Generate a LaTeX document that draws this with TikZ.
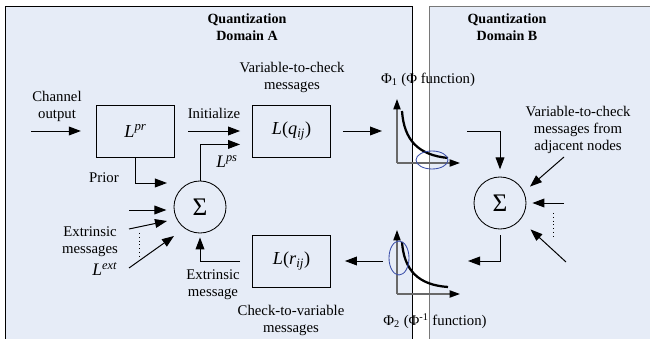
\documentclass[tikz,border=0pt]{standalone}
\usepackage{fontspec}
\setmainfont{Liberation Serif}
\usetikzlibrary{arrows.meta,calc,positioning}
\definecolor{PanelFill}{RGB}{230,236,247}
\definecolor{PanelEdge}{RGB}{120,120,120}
\definecolor{AxisGray}{RGB}{105,105,105}
\definecolor{RingBlue}{RGB}{60,80,170}
\tikzset{
  blk/.style={draw,minimum width=1.95cm,minimum height=1.3cm,
              font=\fontsize{13}{15}\selectfont,line width=0.6pt},
  sumnode/.style={draw,circle,minimum size=1.3cm,inner sep=0pt,
                  font=\fontsize{18}{20}\selectfont,line width=0.6pt},
  lbl/.style={align=center,font=\fontsize{10.5}{12.1}\selectfont},
  mlbl/.style={font=\fontsize{12.5}{14}\selectfont},
  ttl/.style={align=center,font=\fontsize{10}{12.1}\selectfont\bfseries},
  arr/.style={-{Triangle[length=0.3cm,width=0.22cm]},line width=0.7pt},
  axis/.style={-{Triangle[length=0.26cm,width=0.18cm,black]},AxisGray,line width=1pt},
  curve/.style={line width=1.6pt},
  ring/.style={draw=RingBlue,line width=0.6pt},
}
\begin{document}
\begin{tikzpicture}[x=0.025cm,y=-0.025cm]
    \useasboundingbox (0,0) rectangle (650,339);
    \clip (0,0) rectangle (650,339);
    % Panels
    \draw[fill=PanelFill,line width=0.6pt] (5,6) rectangle (412,350);
    \draw[fill=PanelFill,draw=PanelEdge,line width=0.6pt] (429,6) rectangle (660,350);
    \node[ttl] (ttlA) at (247,27) {Quantization\\Domain A};
    \node[ttl] (ttlB) at (507,27) {Quantization\\Domain B};

    % Node definitions
    \node[blk] (Lpr) at (135.5,131) {\textit{L}\textsuperscript{\textit{pr}}};
    \node[blk] (Lq) at (291.5,131) {\textit{L}(\textit{q}\textsubscript{\textit{ij}})};
    \node[blk] (Lr) at (291.5,261) {\textit{L}(\textit{r}\textsubscript{\textit{ij}})};
    \node[sumnode] (sumA) at (200,207) {Σ};
    \node[sumnode] (sumB) at (500,203) {Σ};

    % Free ends
    \coordinate (chanIn) at (31,131);
    \coordinate (priorEnd) at (167,183);
    \coordinate (extA) at (129,210);
    \coordinate (extB) at (129,229);
    \coordinate (extBend) at (167,221);
    \coordinate (extC) at (129,268);
    \coordinate (extCend) at (174,236);
    \coordinate (phiAin) at (382,131);
    \coordinate (phiAout) at (467,131);
    \coordinate (phiBin) at (468,261);
    \coordinate (phiBout) at (383,261);
    \coordinate (adjA) at (564,157);
    \coordinate (adjB) at (564,203);
    \coordinate (adjC) at (566,262);
    \coordinate (phiA) at (397,163);
    \coordinate (phiB) at (397,294);

    % Edges
    \draw[arr,shorten >=0.38cm] (chanIn) -- (Lpr);
    \draw[arr,shorten <=0.33cm,shorten >=0.3cm] (Lpr) -- (Lq);
    \draw[arr,shorten >=0.3cm] (sumA.north) |- ($(Lq.south west)+(0,-13)$);
    \draw[arr] (Lpr.south) |- (priorEnd);
    \draw[arr,shorten >=0.18cm] (extA) -- (extA -| sumA.west);
    \draw[arr] (extB) -- (extBend);
    \draw[arr] (extC) -- (extCend);
    \draw[line width=0.7pt,dotted] (139,233) -- (139,257);
    \draw[arr,shorten <=0.3cm,shorten >=0.1cm] (Lr.west) -| (sumA.south);
    \draw[arr,shorten <=0.3cm] (Lq) -- (phiAin);
    \draw[arr,shorten >=0.18cm] (phiAout) -| (sumB.north);
    \draw[arr,shorten >=0.2cm] (adjA) -- (sumB.25);
    \draw[arr,shorten >=0.15cm] (adjB) -- (sumB.east);
    \draw[arr,shorten >=0.35cm] (adjC) -- (sumB.-40);
    \draw[line width=0.7pt,dotted] (553,213) -- (553,237);
    \draw[arr,shorten <=0.15cm] (sumB.south) |- (phiBin);
    \draw[arr,shorten >=0.35cm] (phiBout) -- (Lr);

    % Phi graphs
    \draw[axis] (phiA) -- ++(0,-64);
    \draw[axis] (phiA) -- ++(63,0);
    \draw[curve] (402,111) .. controls (404,140) and (418,155) .. (448,158);
    \draw[ring] (432,160) ellipse [x radius=16,y radius=9];
    \draw[axis] (phiB) -- ++(0,-64);
    \draw[axis] (phiB) -- ++(63,0);
    \draw[curve] (402,242) .. controls (404,270) and (418,285) .. (448,287);
    \draw[ring] (399,258) ellipse [x radius=10,y radius=17];

    % Labels
    \node[lbl] (v2c) at (292,77) {Variable-to-check\\messages};
    \node[lbl] (chan) at (57,106) {Channel\\output};
    \node[lbl] (init) at (214,113) {Initialize};
    \node[mlbl] (Lps) at (227,162) {\textit{L}\textsuperscript{\textit{ps}}};
    \node[lbl] (prior) at (104,178) {Prior};
    \node[lbl] (extr) at (90,242) {Extrinsic\\messages};
    \node[mlbl] (Lext) at (105,269) {\textit{L}\textsuperscript{\textit{ext}}};
    \node[lbl] (extm) at (213,285) {Extrinsic\\message};
    \node[lbl] (c2v) at (291,320) {Check-to-variable\\messages};
    \node[lbl] (phiAl) at (428,80) {Φ\textsubscript{1} (Φ function)};
    \node[lbl] (phiBl) at (435,321) {Φ\textsubscript{2} (Φ\textsuperscript{-1} function)};
    \node[lbl] (adj) at (578,130) {Variable-to-check\\messages from\\adjacent nodes};
\end{tikzpicture}
\end{document}
